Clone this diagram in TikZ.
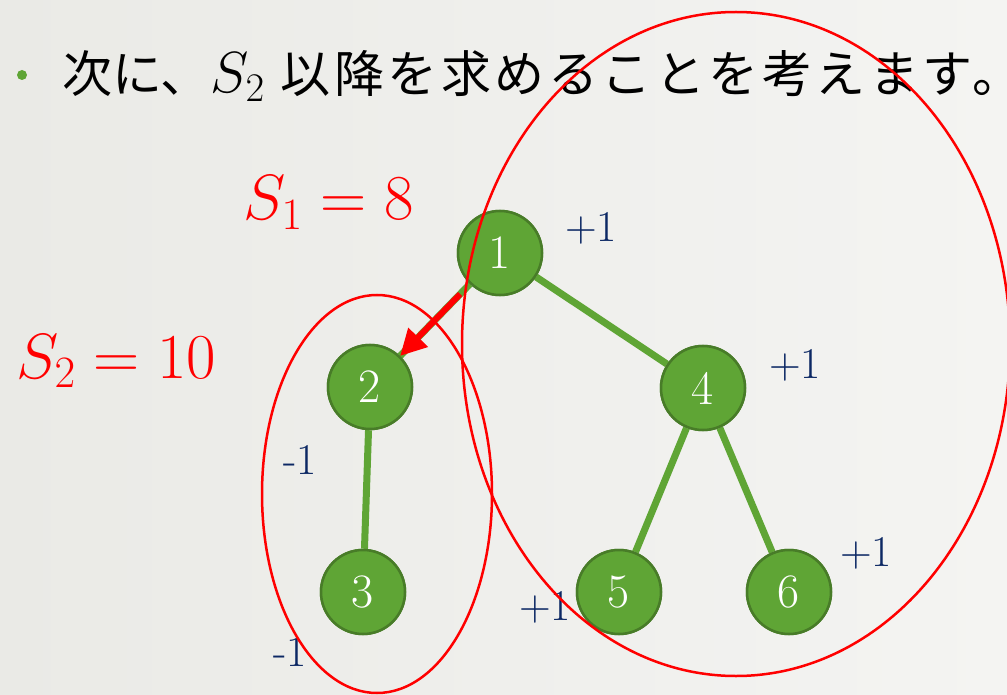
\documentclass[tikz,border=0pt]{standalone}
\usepackage{fix-cm}
\usepackage{fontspec}
\newfontfamily\cjk{Noto Sans CJK JP}
\newfontfamily\cjkwide[LetterSpace=7]{Noto Sans CJK JP}
\usetikzlibrary{arrows.meta}
\definecolor{gfill}{RGB}{95,165,53}
\definecolor{gline}{RGB}{72,124,40}
\definecolor{navy}{RGB}{12,40,100}
\definecolor{bgl}{RGB}{234,234,230}
\definecolor{bgr}{RGB}{244,244,242}
\tikzset{
  vnode/.style={circle, fill=gfill, draw=gline, line width=2.5pt, minimum size=84pt, inner sep=0pt, text=white, font=\fontsize{48}{52}\selectfont},
  tedge/.style={gfill, line width=7pt},
  wlabel/.style={text=navy, font=\fontsize{44}{48}\selectfont, inner sep=0pt},
  redring/.style={red, line width=2.5pt},
  slabel/.style={text=red, font=\fontsize{64}{68}\selectfont, inner sep=0pt, anchor=base west},
  titletext/.style={anchor=base west, inner sep=0pt, font=\fontsize{50}{54}\selectfont}
}
\begin{document}
\begin{tikzpicture}[x=1pt,y=-1pt]
\useasboundingbox (0,0) rectangle (1007,695);
\shade[left color=bgl, right color=bgr] (0,0) rectangle (1007,695);
% title
\fill[gfill] (22,75) circle (5);
\node[titletext] (title) at (62,93) {\cjk 次に、{\fontsize{58}{60}\selectfont$S_2$}\kern16pt{\cjkwide 以降を求めることを考えます\makebox[24pt][l]{。}}};
% nodes
\node[vnode] (n1) at (500,253) {1};
\node[vnode] (n2) at (370,387) {2};
\node[vnode] (n4) at (703,388) {4};
\node[vnode] (n3) at (363,592) {3};
\node[vnode] (n5) at (619,592) {5};
\node[vnode] (n6) at (789,592) {6};
% edges
\draw[tedge] (n1) -- (n2);
\draw[tedge] (n1) -- (n4);
\draw[tedge] (n2) -- (n3);
\draw[tedge] (n4) -- (n5);
\draw[tedge] (n4) -- (n6);
% redraw nodes on top
\node[vnode] at (n1) {1};
\node[vnode] at (n2) {2};
\node[vnode] at (n4) {4};
\node[vnode] at (n3) {3};
\node[vnode] at (n5) {5};
\node[vnode] at (n6) {6};
% weights
\node[wlabel] (w1) at (591,228) {+1};
\node[wlabel] (w4) at (795,365) {+1};
\node[wlabel] (w2) at (300,460) {-1};
\node[wlabel] (w3) at (290,652) {-1};
\node[wlabel] (w5) at (545,607) {+1};
\node[wlabel] (w6) at (866,553) {+1};
% S labels
\node[slabel] (s1) at (243,220) {$S_1 = 8$};
\node[slabel] (s2) at (16,378) {$S_2 = 10$};
% red arrow
\draw[red, line width=6pt, -{Triangle[length=26pt,width=26pt]}, shorten <=14pt] (n1) -- (n2);
% ellipses
\draw[redring] (736,344) ellipse [x radius=274, y radius=332];
\draw[redring] (377,494) ellipse [x radius=115, y radius=199];
\end{tikzpicture}
\end{document}
